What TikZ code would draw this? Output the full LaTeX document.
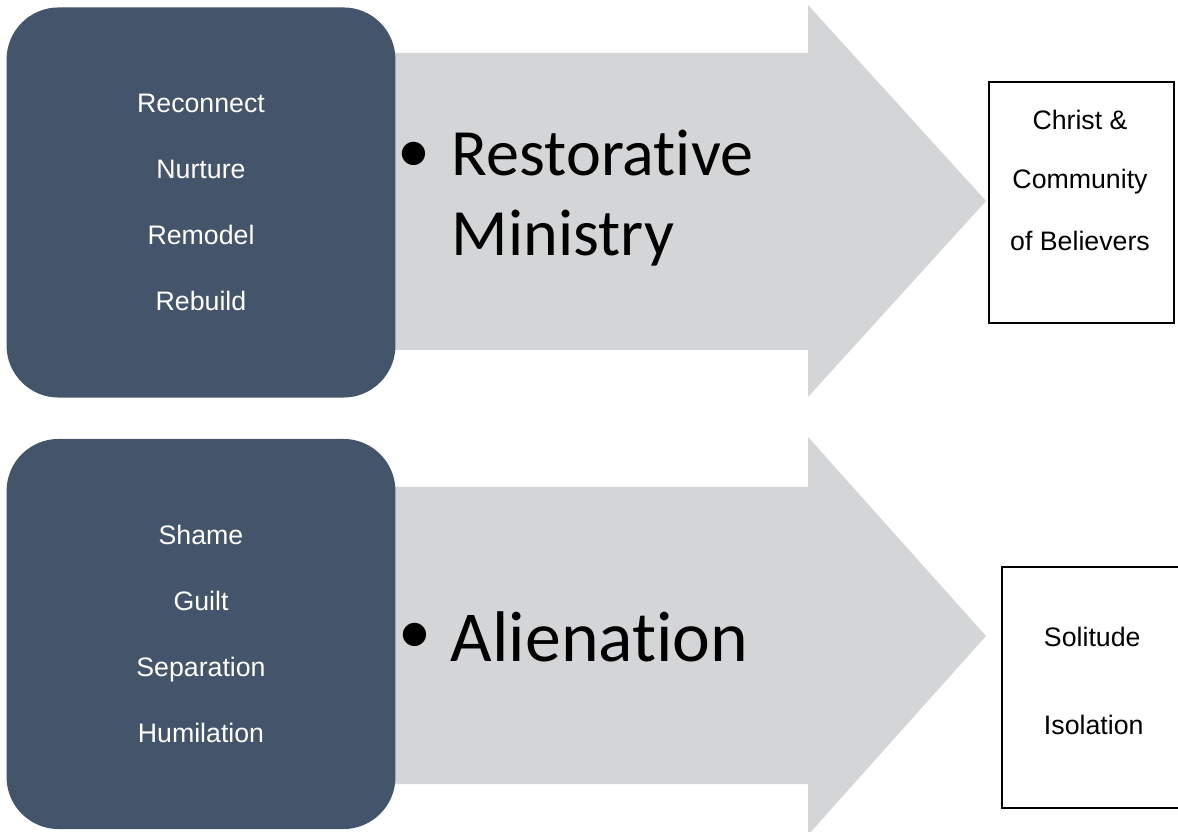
\documentclass[tikz,border=0pt]{standalone}
\usepackage{fontspec}
\setmainfont{Liberation Sans}
\newfontfamily\calibrifont[Ligatures={NoCommon,NoRare,NoContextual}]{Carlito}
\usepackage{tikz}

\definecolor{slateblue}{HTML}{44546A}
\definecolor{arrowgray}{HTML}{D4D5D7}

\tikzset{
  darkbox/.style={fill=slateblue, rounded corners=1.3cm, text=white, align=center,
    minimum width=9.72cm, minimum height=9.75cm, font=\fontsize{19}{47}\selectfont},
  outbox/.style={draw=black, line width=1pt, fill=white},
  bigword/.style={font=\calibrifont\fontsize{47}{57}\selectfont, align=left, anchor=west},
  smallword/.style={font=\fontsize{19}{23}\selectfont}
}

\begin{document}
\begin{tikzpicture}[x=0.025cm,y=-0.025cm]
  \useasboundingbox (0,0) rectangle (1178,832);
  \clip (0,0) rectangle (1178,832);
  % arrows
  \fill [arrowgray] (380,53) -- (808,53) -- (808,5) -- (986,201) -- (808,397) -- (808,350) -- (380,350) -- cycle;
  \fill [arrowgray] (380,487) -- (808,487) -- (808,437) -- (986,636) -- (808,835) -- (808,784) -- (380,784) -- cycle;
  % left boxes
  \node [darkbox] at (201,202.5) (r0) {Reconnect\\Nurture\\Remodel\\Rebuild};
  \node [darkbox] at (201,634) (a0) {Shame\\Guilt\\Separation\\Humilation};
  % middle texts
  \node [bigword] at (393,157) (r1) {\textbullet};
  \node [bigword] at (447,198) (r2) {Restorat\kern0pt ive\\Ministry};
  \node [bigword] at (394,638) (a1) {\textbullet};
  \node [bigword, font=\calibrifont\fontsize{51}{60}\selectfont, anchor=base west] at (446,662) (a2) {Alienat\kern0pt ion};
  % right boxes
  \node [outbox, minimum width=4.62cm, minimum height=6.02cm] at (1081.5,202.5) (r3) {};
  \node [smallword] at (1080,120) (r4) {Christ \&};
  \node [smallword] at (1080,182) (r5) {Community};
  \node [smallword] at (1080,241) (r6) {of Believers};
  \node [outbox, minimum width=4.7cm, minimum height=6.02cm] at (1096,687.5) (a3) {};
  \node [smallword, anchor=west] at (1039,637) (a4) {Solitude};
  \node [smallword, anchor=west] at (1039,725) (a5) {Isolation};
\end{tikzpicture}
\end{document}
